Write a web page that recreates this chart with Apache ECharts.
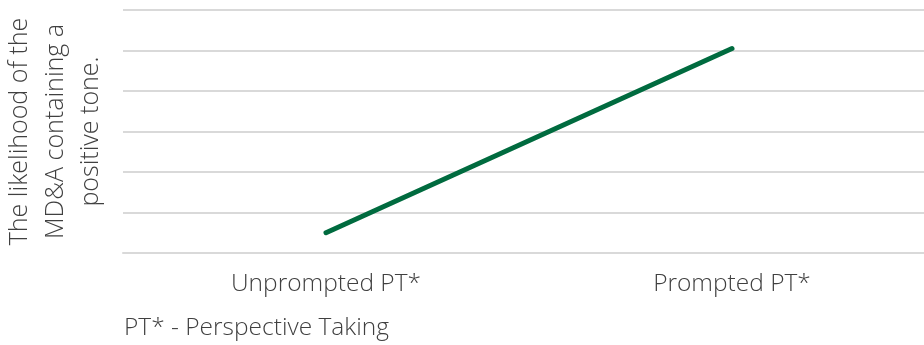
<!DOCTYPE html>
<html>
<head>
<meta charset="utf-8">
<script src="https://cdn.jsdelivr.net/npm/echarts@6/dist/echarts.min.js"></script>
<style>
  html, body { margin: 0; padding: 0; background: #fff; }
  #report_box { width: 924px; height: 345px; }
</style>
</head>
<body>
<div id="report_box"></div>
<script>
// categories and values
var categories = ['Unprompted PT*', 'Prompted PT*'];
var toneValues = [0.5, 5.05];
var yTitle = 'The likelihood of the\nMD&A containing a\npositive tone.';
var footnote = 'PT* - Perspective Taking';

var fontName = '"Open Sans", "Noto Sans", sans-serif';

var myChart = echarts.init(document.getElementById('report_box'));
var option = {
    animation: false,
    grid: {
        left: 123,
        right: -11,
        top: 10,
        bottom: 92,
        containLabel: false,
        outerBoundsMode: 'none'
    },
    xAxis: {
        type: 'category',
        data: categories,
        boundaryGap: true,
        axisLine: { show: true, lineStyle: { color: '#d9d9d9', width: 2 } },
        axisTick: { show: false },
        axisLabel: {
            margin: 19,
            fontSize: 24.5,
            fontFamily: fontName,
            fontWeight: 300,
            color: '#404040'
        }
    },
    yAxis: {
        type: 'value',
        min: 0,
        max: 6,
        interval: 1,
        axisLabel: { show: false },
        axisLine: { show: false },
        axisTick: { show: false },
        splitLine: { lineStyle: { color: '#d9d9d9', width: 2 } },
        name: yTitle,
        nameLocation: 'middle',
        nameRotate: 90,
        nameGap: 14,
        nameTextStyle: {
            fontSize: 25,
            fontFamily: fontName,
            fontWeight: 300,
            color: '#404040',
            lineHeight: 35.5,
            align: 'center'
        }
    },
    graphic: [{
        type: 'text',
        left: 124,
        top: 316,
        style: {
            text: footnote,
            font: '300 24.5px ' + fontName,
            fill: '#404040'
        }
    }],
    series: [{
        type: 'line',
        data: toneValues,
        symbol: 'none',
        lineStyle: { color: '#006b3f', width: 5, cap: 'round' }
    }]
};
myChart.setOption(option);
</script>
</body>
</html>
